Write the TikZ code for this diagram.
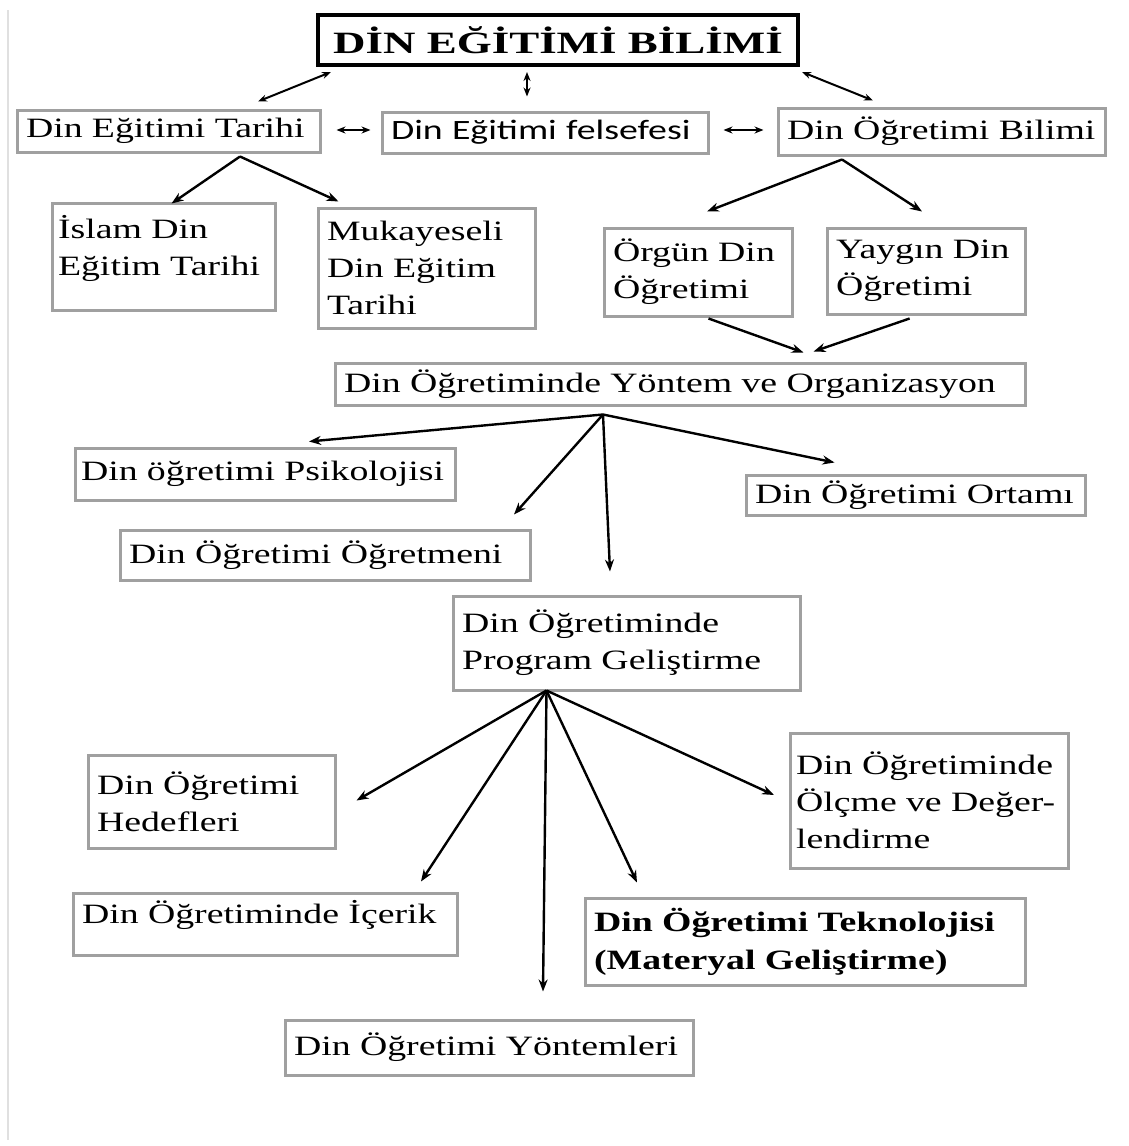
\documentclass[tikz,border=0pt]{standalone}
\usepackage{fontspec}
\setmainfont{Liberation Serif}[FakeStretch=1.35]
\newfontfamily\baslikfont{Liberation Serif}[FakeStretch=1.45]
\newfontfamily\calibrifont{Carlito}[FakeStretch=1.35]
\usetikzlibrary{calc, arrows.meta}
\definecolor{kenar}{RGB}{160,160,160}

\begin{document}
\begin{tikzpicture}[x=1pt, y=-1pt]

    \tikzstyle{kutu}=[draw=kenar, line width=3pt, align=left, inner xsep=9pt, inner ysep=4pt, font=\fontsize{28}{37}\selectfont];
    \tikzstyle{ok}=[-{Stealth[length=12pt, width=9pt]}, line width=2.4pt];
    \tikzstyle{ciftok}=[{Stealth[length=9pt, width=7pt]}-{Stealth[length=9pt, width=7pt]}, line width=2pt];

    \fill[white] (0,0) rectangle (1128,1146);
    \draw[black!12, line width=1.5pt] (8,10) -- (8,1140);

    \node[draw=black, line width=4pt, minimum width=480pt, minimum height=50pt, font=\baslikfont\bfseries\fontsize{31}{37}\selectfont] (baslik) at (558,40) {DİN EĞİTİMİ BİLİMİ};

    \node[kutu, text width=285pt, minimum height=42pt] (tarih) at (168.5,131) {Din Eğitimi Tarihi};
    \node[kutu, text width=308pt, minimum height=41pt, font=\calibrifont\fontsize{28}{37}\selectfont] (felsefe) at (545,132.5) {Din Eğitimi felsefesi};
    \node[kutu, text width=309pt, minimum height=47pt] (bilim) at (941.5,131.5) {Din Öğretimi Bilimi};

    \node[kutu, inner xsep=6pt, text width=211pt, minimum height=107pt, text depth=59pt] (islam) at (163.5,256.5) {İslam Din\\Eğitim Tarihi};
    \node[kutu, text width=199pt, minimum height=120pt] (mukayese) at (426.5,268) {Mukayeseli\\Din Eğitim\\Tarihi};
    \node[kutu, text width=170pt, minimum height=88pt] (orgun) at (698,272) {Örgün Din\\Öğretimi};
    \node[kutu, text width=180pt, minimum height=86pt] (yaygin) at (926,271) {Yaygın Din\\Öğretimi};

    \node[kutu, text width=672pt, minimum height=42pt] (yontem) at (680,384) {Din Öğretiminde Yöntem ve Organizasyon};
    \node[kutu, inner xsep=6pt, text width=368pt, minimum height=52pt] (psikoloji) at (265,474) {Din öğretimi Psikolojisi};
    \node[kutu, text width=321pt, minimum height=40pt] (ortam) at (915.5,495) {Din Öğretimi Ortamı};
    \node[kutu, text width=392pt, minimum height=50pt] (ogretmen) at (325,555) {Din Öğretimi Öğretmeni};
    \node[kutu, text width=329pt, minimum height=94pt] (program) at (626.5,643) {Din Öğretiminde\\Program Geliştirme};

    \node[kutu, text width=229pt, minimum height=93pt] (hedef) at (211.5,801.5) {Din Öğretimi\\Hedefleri};
    \node[kutu, inner xsep=6pt, text width=266pt, minimum height=135pt] (olcme) at (929,800.5) {Din Öğretiminde\\Ölçme ve Değer-\\lendirme};
    \node[kutu, text width=366pt, minimum height=62pt, text depth=24pt] (icerik) at (265,924) {Din Öğretiminde İçerik};
    \node[kutu, text width=422pt, minimum height=87pt, font=\bfseries\fontsize{28}{38}\selectfont] (teknoloji) at (805,941.5) {Din Öğretimi Teknolojisi\\(Materyal Geliştirme)};
    \node[kutu, text width=390pt, minimum height=55pt] (yontemler) at (489,1047.5) {Din Öğretimi Yöntemleri};

    \coordinate (yontemucu) at ($(yontem.south)+(-77,8)$);
    \coordinate (programucu) at ($(program.south)+(-80,-1)$);

    \draw ($(baslik.south west)+(15,5)$) edge[ciftok] ($(tarih.north)+(89.5,-7)$);
    \draw ($(baslik.south)+(-31,5)$) edge[ciftok] ($(felsefe.north)+(-18,-14)$);
    \draw ($(baslik.south east)+(2,5)$) edge[ciftok] ($(bilim.north)+(-68.5,-6)$);
    \draw ($(tarih.east)+(15,-1)$) edge[ciftok] ($(felsefe.west)+(-10,-2.5)$);
    \draw ($(felsefe.east)+(14,-2.5)$) edge[ciftok] ($(bilim.west)+(-13,-1.5)$);

    \draw ($(tarih.south)+(71.5,3)$) edge[ok] ($(islam.north)+(8,2)$);
    \draw ($(tarih.south)+(71.5,3)$) edge[ok] ($(mukayese.north)+(-88,-5)$);
    \draw ($(bilim.south)+(-99.5,3)$) edge[ok] ($(orgun.north)+(9,-15)$);
    \draw ($(bilim.south)+(-99.5,3)$) edge[ok] ($(yaygin.north)+(-4,-15)$);

    \draw ($(orgun.south)+(10.5,1)$) edge[ok] ($(yontem.north)+(123.5,-9)$);
    \draw ($(yaygin.south)+(-16.4,3)$) edge[ok] ($(yontem.north)+(133.6,-10)$);

    \draw (yontemucu) edge[ok] ($(psikoloji.north)+(44,-5)$);
    \draw (yontemucu) edge[ok] ($(ogretmen.north)+(189,-14)$);
    \draw (yontemucu) edge[ok] ($(program.north)+(-16.5,-23)$);
    \draw (yontemucu) edge[ok] ($(ortam.north)+(-81,-11)$);

    \draw (programucu) edge[ok] ($(hedef.east)+(20,-1)$);
    \draw (programucu) edge[ok] ($(icerik.north)+(156,-10)$);
    \draw (programucu) edge[ok] ($(yontemler.north)+(54,-27)$);
    \draw (programucu) edge[ok] ($(teknoloji.north)+(-168,-14)$);
    \draw (programucu) edge[ok] ($(olcme.west)+(-14.5,-5.5)$);

    \useasboundingbox (0,0) rectangle (1128,1146);
\end{tikzpicture}
\end{document}
